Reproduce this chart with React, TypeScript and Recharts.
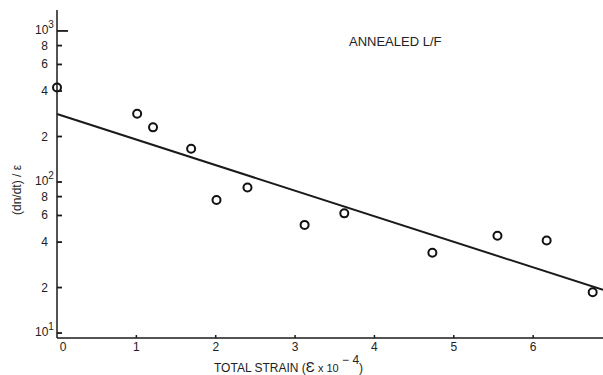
import React from 'react';
import { ComposedChart, XAxis, YAxis, Scatter, Line } from 'recharts';

const strain = [0, 1.01, 1.21, 1.69, 2.01, 2.4, 3.12, 3.62, 4.73, 5.55, 6.17, 6.75];
const rate = [422, 283, 230, 166, 76, 92, 52, 62, 34, 44, 41, 18.6];
const fitStrain = [0, 6.88];
const fitRate = [282, 19.3];
const xTicks = [0, 1, 2, 3, 4, 5, 6];
const yTicks = [10, 20, 40, 60, 80, 100, 200, 400, 600, 800, 1000];
const yTickLabels = ['10^1', '2', '4', '6', '8', '10^2', '2', '4', '6', '8', '10^3'];
const titleText = 'ANNEALED L/F';

const points = strain.map((x, i) => ({ x, y: rate[i] }));
const fit = fitStrain.map((x, i) => ({ x, y: fitRate[i] }));

const FONT = '"Liberation Sans", Arial, sans-serif';
const INK = '#1a1a1a';

const YTick = (props: any) => {
  const { x, y, payload } = props;
  const idx = yTicks.indexOf(payload.value);
  const label = yTickLabels[idx] ?? String(payload.value);
  const len = payload.value === 1000 ? 11 : 5;
  if (label.includes('^')) {
    const [base, exp] = label.split('^');
    return (
      <g>
        <line x1={x} x2={x + len} y1={y} y2={y} stroke={INK} strokeWidth={1.8} />
        <text x={x - 22} y={y + 3} fontFamily={FONT} fontSize={12} fill="#222" textAnchor="start">
          <tspan>{base}</tspan>
          <tspan dy={-6} fontSize={10}>{exp}</tspan>
        </text>
      </g>
    );
  }
  return (
    <g>
      <line x1={x} x2={x + len} y1={y} y2={y} stroke={INK} strokeWidth={1.8} />
      <text x={x - 9} y={y + 4} fontFamily={FONT} fontSize={12} fill="#222" textAnchor="end">
        {label}
      </text>
    </g>
  );
};

const XTick = (props: any) => {
  const { x, y, payload, index } = props;
  return (
    <g>
      {payload.value !== 0 && (
        <line x1={x} x2={x} y1={y} y2={y - 3} stroke={INK} strokeWidth={1.5} />
      )}
      <text x={x + (index === 0 ? 6 : 0)} y={y + 13} fontFamily={FONT} fontSize={12} fill="#222" textAnchor="middle">
        {payload.value}
      </text>
    </g>
  );
};

const Ring = (props: any) => {
  const { cx, cy } = props;
  return <circle cx={cx} cy={cy} r={4} fill="none" stroke="#111" strokeWidth={2} />;
};

export default function App() {
  return (
    <div style={{ position: 'absolute', left: 0, top: 0, width: 603, height: 375, background: '#fff' }}>
      <ComposedChart width={603} height={375} margin={{ top: 10, right: 0, bottom: 0, left: 0 }}>
        <XAxis
          type="number"
          dataKey="x"
          domain={[0, 6.88]}
          ticks={xTicks}
          height={37}
          tickSize={0}
          tickMargin={0}
          axisLine={{ stroke: INK, strokeWidth: 1.5 }}
          tickLine={false}
          tick={<XTick />}
        />
        <YAxis
          type="number"
          dataKey="y"
          scale="log"
          domain={[9.27, 1376]}
          ticks={yTicks}
          width={57}
          tickSize={0}
          tickMargin={0}
          axisLine={{ stroke: INK, strokeWidth: 1.5 }}
          tickLine={false}
          tick={<YTick />}
          interval={0}
        />
        <Line
          data={fit}
          dataKey="y"
          type="linear"
          stroke={INK}
          strokeWidth={2}
          dot={false}
          activeDot={false}
          isAnimationActive={false}
        />
        <Scatter data={points} dataKey="y" shape={<Ring />} isAnimationActive={false} />
      </ComposedChart>
      <svg width={603} height={375} style={{ position: 'absolute', left: 0, top: 0, pointerEvents: 'none' }}>
        <text x={349} y={46} fontFamily={FONT} fontSize={13} fill="#222">
          {titleText}
        </text>
        <text x={214} y={372} fontFamily={FONT} fontSize={12} fill="#222">
          <tspan>TOTAL STRAIN (</tspan>
          <tspan fontSize={15}>Ɛ</tspan>
          <tspan fontSize={11}> x 10</tspan>
          <tspan dy={-8} fontSize={12}> − 4</tspan>
          <tspan dy={8}>)</tspan>
        </text>
        <text
          x={0}
          y={0}
          transform="translate(21, 190) rotate(-90)"
          fontFamily={FONT}
          fontSize={12}
          fill="#222"
          textAnchor="middle"
        >
          (dn/dt) / ε
        </text>
      </svg>
    </div>
  );
}
